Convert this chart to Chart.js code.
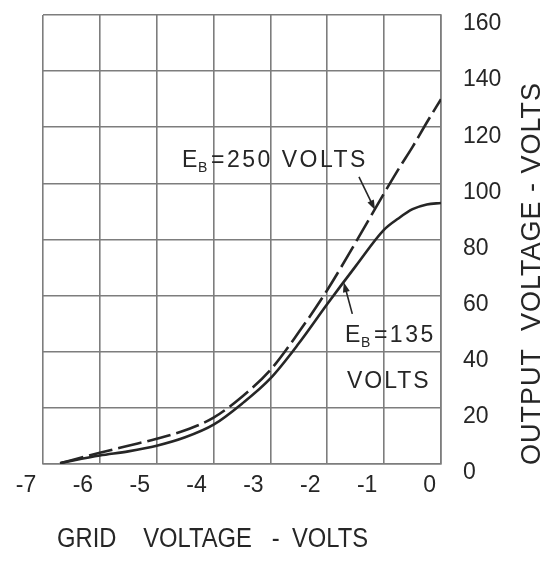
<!DOCTYPE html>
<html>
<head>
<meta charset="utf-8">
<script src="https://cdn.jsdelivr.net/npm/chart.js@4.4.1/dist/chart.umd.min.js"></script>
<style>
  html, body { margin: 0; padding: 0; background: #fff; }
  #wrap { width: 549px; height: 561px; }
</style>
</head>
<body>
<div id="wrap"><canvas id="transferChart" width="549" height="561"></canvas></div>
<script>
// grid bias (volts) and output voltage for the two plate supplies
const gridVolts = [-6.7, -6, -5.5, -5, -4.5, -4, -3.5, -3, -2.5, -2, -1.5, -1, -0.75, -0.5, -0.25, 0];
const output250 = [0.3, 4, 6.5, 9, 12, 16.5, 24, 33.5, 47, 62, 79, 96.5, 105, 113, 121.7, 130];
const output135 = [0.3, 3, 4.5, 6.5, 9.5, 14, 21.5, 30.5, 43, 57, 70.5, 83.5, 87.5, 90.8, 92.5, 93];

const xTicks = [-7, -6, -5, -4, -3, -2, -1, 0];
const yTicks = [0, 20, 40, 60, 80, 100, 120, 140, 160];

const ink = '#262626';
const rule = '#7d7d7d';
const face = "'Liberation Sans', Arial, sans-serif";

function points(ys) {
  return gridVolts.map((v, i) => ({ x: v, y: ys[i] }));
}

// "E" with subscript "B", then the rest of the label
function plateLabel(ctx, px, py, tail, spacing) {
  ctx.textAlign = 'left';
  ctx.textBaseline = 'alphabetic';
  ctx.letterSpacing = '0px';
  ctx.font = `23px ${face}`;
  ctx.fillText('E', px, py);
  ctx.font = `14px ${face}`;
  ctx.fillText('B', px + 16, py + 5);
  ctx.font = `23px ${face}`;
  ctx.letterSpacing = spacing + 'px';
  ctx.fillText('=' + tail, px + 29, py);
  ctx.letterSpacing = '0px';
}

function arrow(ctx, x0, y0, x1, y1) {
  const ang = Math.atan2(y1 - y0, x1 - x0);
  ctx.lineWidth = 1.6;
  ctx.beginPath();
  ctx.moveTo(x0, y0);
  ctx.lineTo(x1 - 6 * Math.cos(ang), y1 - 6 * Math.sin(ang));
  ctx.stroke();
  ctx.beginPath();
  ctx.moveTo(x1, y1);
  ctx.lineTo(x1 - 10 * Math.cos(ang) + 3.5 * Math.sin(ang), y1 - 10 * Math.sin(ang) - 3.5 * Math.cos(ang));
  ctx.lineTo(x1 - 10 * Math.cos(ang) - 3.5 * Math.sin(ang), y1 - 10 * Math.sin(ang) + 3.5 * Math.cos(ang));
  ctx.closePath();
  ctx.fill();
}

const notes = {
  id: 'notes',
  afterDraw(chart) {
    const { ctx, chartArea: a, scales: { x, y } } = chart;
    ctx.save();
    ctx.fillStyle = ink;
    ctx.strokeStyle = ink;

    plateLabel(ctx, x.getPixelForValue(-4.555), y.getPixelForValue(105.8), '250 VOLTS', 2.5);
    arrow(ctx, x.getPixelForValue(-1.443), y.getPixelForValue(102.3),
               x.getPixelForValue(-1.16), y.getPixelForValue(90.5));

    plateLabel(ctx, x.getPixelForValue(-1.69), y.getPixelForValue(43.5), '135', 2.5);
    ctx.font = `23px ${face}`;
    ctx.letterSpacing = '2px';
    ctx.fillText('VOLTS', x.getPixelForValue(-1.655), y.getPixelForValue(27.1));
    ctx.letterSpacing = '0px';
    arrow(ctx, x.getPixelForValue(-1.56), y.getPixelForValue(53.5),
               x.getPixelForValue(-1.71), y.getPixelForValue(64.8));

    // axis titles
    ctx.font = `27px ${face}`;
    ctx.textBaseline = 'alphabetic';
    ctx.save();
    ctx.translate(a.left + 14, 547);
    ctx.scale(0.88, 1);
    ctx.fillText('GRID', 0, 0);
    ctx.fillText('VOLTAGE', 98, 0);
    ctx.fillText('-', 244, 0);
    ctx.fillText('VOLTS', 267, 0);
    ctx.restore();

    ctx.save();
    ctx.translate(a.right + 92, a.bottom + 1);
    ctx.rotate(-Math.PI / 2);
    ctx.textBaseline = 'middle';
    ctx.letterSpacing = '1px';
    ctx.fillText('OUTPUT  VOLTAGE - VOLTS', 0, 0);
    ctx.restore();

    ctx.restore();
  }
};

const ctx = document.querySelector('#transferChart').getContext('2d');
new Chart(ctx, {
  type: 'line',
  data: {
    datasets: [{
      label: 'EB = 250 VOLTS',
      data: points(output250),
      borderColor: ink,
      borderWidth: 2.6,
      borderDash: [24, 6],
      pointRadius: 0,
      cubicInterpolationMode: 'monotone',
      fill: false
    }, {
      label: 'EB = 135 VOLTS',
      data: points(output135),
      borderColor: ink,
      borderWidth: 2.6,
      pointRadius: 0,
      cubicInterpolationMode: 'monotone',
      fill: false
    }]
  },
  options: {
    responsive: false,
    animation: false,
    layout: { padding: { left: 43, top: 15, right: 0, bottom: 0 } },
    plugins: { legend: { display: false }, tooltip: { enabled: false } },
    scales: {
      x: {
        type: 'linear',
        min: -7,
        max: 0,
        afterFit: (s) => { s.height = 97; s.paddingLeft = 0; s.paddingRight = 0; },
        afterBuildTicks: (s) => { s.ticks = xTicks.map(v => ({ value: v })); },
        grid: { color: rule, lineWidth: 1.6, drawTicks: false },
        border: { color: rule, width: 1.6 },
        ticks: {
          padding: 8,
          labelOffset: -17,
          color: ink,
          font: { family: face, size: 23 },
          callback: (v) => v === 0 ? '\u20020' : String(v)
        }
      },
      y: {
        position: 'right',
        min: 0,
        max: 160,
        afterFit: (s) => { s.width = 108; s.paddingTop = 0; s.paddingBottom = 0; },
        afterBuildTicks: (s) => { s.ticks = yTicks.map(v => ({ value: v })); },
        grid: { color: rule, lineWidth: 1.6, drawTicks: false },
        border: { color: rule, width: 1.6 },
        ticks: {
          padding: 22,
          labelOffset: 9,
          color: ink,
          font: { family: face, size: 23 }
        }
      }
    }
  },
  plugins: [notes]
});
</script>
</body>
</html>
